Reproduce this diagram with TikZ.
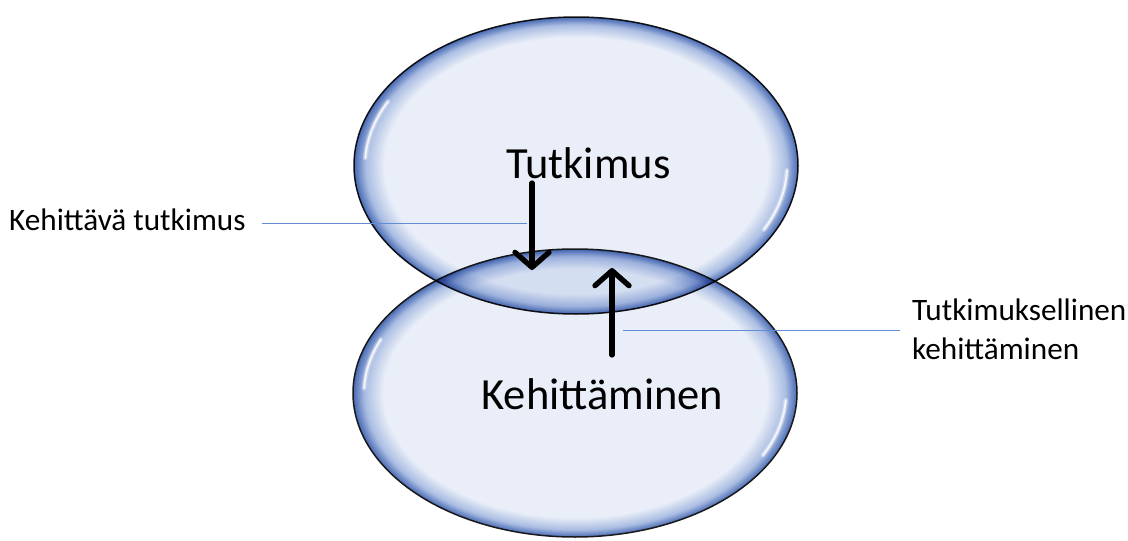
\documentclass[tikz,border=0pt]{standalone}
\usepackage{fontspec}
\setmainfont{Carlito}
\usetikzlibrary{arrows.meta}
\definecolor{elin}{RGB}{233,238,248}
\definecolor{elmid}{RGB}{170,189,226}
\definecolor{elout}{RGB}{72,106,180}
\definecolor{leader}{RGB}{100,140,212}
\pgfdeclareradialshading{glow}{\pgfpointorigin}{color(0bp)=(elin); color(21.6bp)=(elin); color(23.7bp)=(elmid); color(25bp)=(elout); color(50bp)=(elout)}
\tikzset{
  rim/.style={draw=black!90, line width=1.5pt},
  shinesoft/.style={draw=white, line width=5pt, line cap=round, opacity=0.3},
  shine/.style={draw=white, line width=2pt, line cap=round, opacity=0.8},
  bigtext/.style={font=\fontsize{44.5}{53}\selectfont, inner sep=0pt},
  sidetext/.style={font=\fontsize{31.2}{39}\selectfont, inner sep=0pt},
  leaderline/.style={draw=leader, line width=1pt},
  bigarrow/.style={line width=5.3pt, line cap=round, -{Straight Barb[length=15pt,width=34pt,line cap=round,line join=round]}}
}
\begin{document}
\begin{tikzpicture}[x=1pt,y=-1pt]
\useasboundingbox (0,0) rectangle (1128,541);
\fill[white] (0,0) rectangle (1128,541);
% centres
\coordinate (B) at (575,393);
\coordinate (T) at (576,165.5);
% bottom ellipse
\shade[shading=glow] (B) ellipse [x radius=222pt, y radius=144pt];
\draw[rim] (B) ellipse [x radius=222pt, y radius=144pt];
\begin{scope}[shift={(B)}]
  \foreach \s in {shinesoft,shine}{
  \draw[\s] (157:211pt and 137pt) arc[start angle=157, end angle=178, x radius=211pt, y radius=137pt];
  \draw[\s] (-27:211pt and 137pt) arc[start angle=-27, end angle=-3, x radius=211pt, y radius=137pt];
  }
\end{scope}
% top ellipse (multiplied over bottom one)
\begin{scope}[blend mode=multiply]
\shade[shading=glow] (T) ellipse [x radius=222pt, y radius=148.5pt];
\draw[rim] (T) ellipse [x radius=222pt, y radius=148.5pt];
\end{scope}
\begin{scope}[shift={(T)}]
  \foreach \s in {shinesoft,shine}{
  \draw[\s] (153:211pt and 141pt) arc[start angle=153, end angle=177, x radius=211pt, y radius=141pt];
  \draw[\s] (-27:211pt and 141pt) arc[start angle=-27, end angle=-2, x radius=211pt, y radius=141pt];
  }
\end{scope}
% labels
\node[bigtext, anchor=base] (tut) at (588.5,178) {Tutkimus};
\node[bigtext, anchor=base] (keh) at (602.5,409) {Kehittäminen};
\node[sidetext, anchor=base west] (kt) at (9,230) {Kehittävä tutkimus};
\node[sidetext, anchor=base west, align=left] (tk) at (912,359) {Tutkimuksellinen\\kehittäminen};
% arrows
\coordinate (d1) at (532,183);
\coordinate (d2) at (532,270);
\coordinate (u1) at (612,355);
\coordinate (u2) at (612,268);
\draw[bigarrow] (d1) -- (d2);
\draw[bigarrow] (u1) -- (u2);
% leader lines
\coordinate (l1) at (262,223);
\coordinate (l2) at (527,223);
\coordinate (r1) at (623,330);
\coordinate (r2) at (900,330);
\draw[leaderline] (l1) -- (l2);
\draw[leaderline] (r1) -- (r2);
\end{tikzpicture}
\end{document}
